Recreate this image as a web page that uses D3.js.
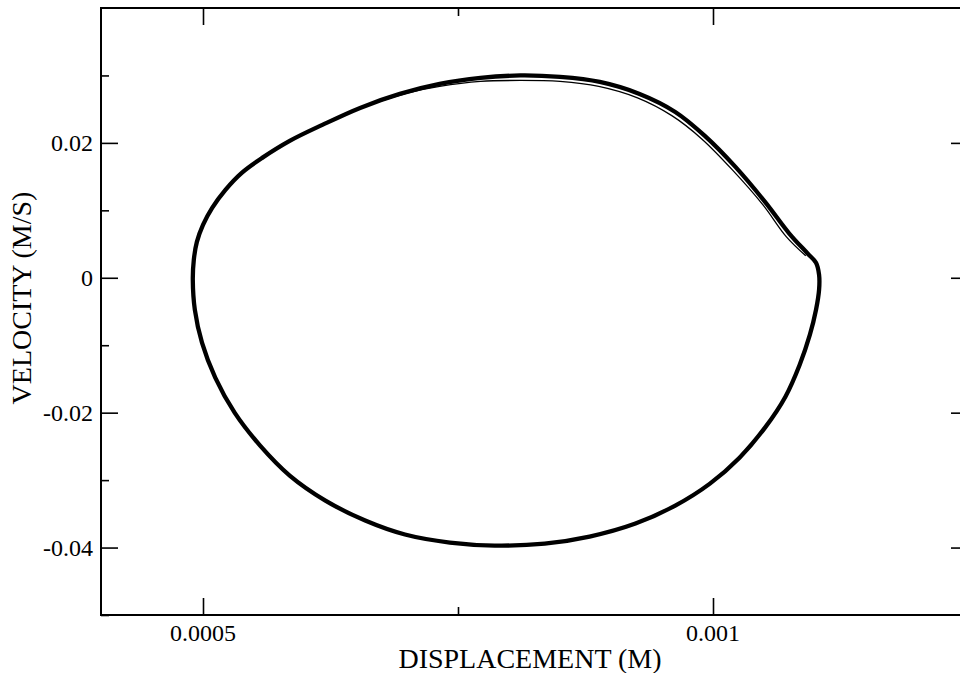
<!DOCTYPE html>
<html>
<head>
<meta charset="utf-8">
<script src="https://cdn.jsdelivr.net/npm/d3@7"></script>
<style>
  html, body { margin: 0; padding: 0; background: #fff; }
  svg { display: block; }
  text { font-family: "Liberation Serif", "DejaVu Serif", serif; fill: #000; }
</style>
</head>
<body>
<svg id="chart" width="960" height="673" font-family="Liberation Serif, DejaVu Serif, serif"></svg>
<script>
// ---- data ----
const xTickValues = [0.0005, 0.001];
const xTickLabels = ["0.0005", "0.001"];
const xMinorTicks = [0.00075, 0.00125];
const yTickValues = [-0.04, -0.02, 0, 0.02];
const yTickLabels = ["-0.04", "-0.02", "0", "0.02"];
const yMinorTicks = [-0.05, -0.03, -0.01, 0.01, 0.03];
const xLabel = "DISPLACEMENT (M)";
const yLabel = "VELOCITY (M/S)";

// main limit cycle (displacement, velocity)
const cycleX = [0.000490, 0.000491, 0.000494, 0.000500, 0.000509, 0.000522, 0.000538, 0.000558, 0.000585, 0.000617,
  0.000654, 0.000693, 0.000732, 0.000772, 0.000811, 0.000850, 0.000889, 0.000928, 0.000963, 0.000992,
  0.001022, 0.001051, 0.001075, 0.001093, 0.001101, 0.001104, 0.001104, 0.001101, 0.001095, 0.001085,
  0.001071, 0.001051, 0.001026, 0.000997, 0.000963, 0.000924, 0.000879, 0.000835, 0.000786, 0.000742,
  0.000698, 0.000659, 0.000620, 0.000585, 0.000556, 0.000531, 0.000512, 0.000499, 0.000492];
const cycleV = [-0.0003, 0.00267, 0.00533, 0.00785, 0.01037, 0.01304, 0.01556, 0.01778, 0.02030, 0.02267,
  0.02519, 0.02726, 0.02874, 0.02963, 0.03000, 0.02978, 0.02904, 0.02726, 0.02459, 0.02104,
  0.01644, 0.01126, 0.00652, 0.00356, 0.00222, 0.00044, -0.00178, -0.00474, -0.00844, -0.01289,
  -0.01763, -0.02222, -0.02667, -0.03052, -0.03378, -0.03644, -0.03837, -0.03941, -0.03970, -0.03926,
  -0.03807, -0.03600, -0.03304, -0.02933, -0.02489, -0.02000, -0.01481, -0.00963, -0.00474];

// inner trace visible on the upper-right arc
const innerX = [0.000664, 0.000703, 0.000732, 0.000772, 0.000811, 0.000850, 0.000888, 0.000926, 0.000960, 0.000989, 0.001019, 0.001049, 0.001072, 0.001091];
const innerV = [0.02570, 0.02748, 0.02837, 0.02911, 0.02926, 0.02911, 0.02837, 0.02667, 0.02400, 0.02059, 0.01600, 0.01081, 0.00607, 0.00326];

// ---- layout ----
const svg = d3.select("#chart");
const L = 101, R = 968, T = 8, B = 615;
const x = d3.scaleLinear().domain([0.0004, 0.00125]).range([L, R]);
const y = d3.scaleLinear().domain([-0.05, 0.04]).range([B, T]);
const fsTick = 24, fsTitle = 28;
const majorLen = 17, minorLen = 8;

// curve
const cyclePts = cycleX.map((d, i) => [d, cycleV[i]]);
const innerPts = innerX.map((d, i) => [d, innerV[i]]);
const lineClosed = d3.line().x(d => x(d[0])).y(d => y(d[1])).curve(d3.curveCatmullRomClosed.alpha(0.5));
const lineOpen = d3.line().x(d => x(d[0])).y(d => y(d[1])).curve(d3.curveCatmullRom.alpha(0.5));

svg.append("path").attr("d", lineClosed(cyclePts))
  .attr("fill", "none").attr("stroke", "#000").attr("stroke-width", 4.3);
svg.append("path").attr("d", lineOpen(innerPts))
  .attr("fill", "none").attr("stroke", "#000").attr("stroke-width", 1.3);

// frame
svg.append("rect").attr("x", L).attr("y", T).attr("width", R - L).attr("height", B - T)
  .attr("fill", "none").attr("stroke", "#000").attr("stroke-width", 2);

// ticks via d3 axis generators (pointing inward)
function addTicks(gen, transform, vals, len) {
  const g = svg.append("g").attr("transform", transform)
    .call(gen.tickValues(vals).tickSizeInner(len).tickSizeOuter(0).tickFormat(""));
  g.select(".domain").remove();
  g.selectAll(".tick line").attr("stroke", "#000").attr("stroke-width", 1.6);
  return g;
}
addTicks(d3.axisTop(x), `translate(0,${B})`, xTickValues, majorLen);
addTicks(d3.axisTop(x), `translate(0,${B})`, xMinorTicks, minorLen);
addTicks(d3.axisBottom(x), `translate(0,${T})`, xTickValues, majorLen);
addTicks(d3.axisBottom(x), `translate(0,${T})`, xMinorTicks, minorLen);
addTicks(d3.axisRight(y), `translate(${L},0)`, yTickValues, majorLen);
addTicks(d3.axisRight(y), `translate(${L},0)`, yMinorTicks, minorLen);
addTicks(d3.axisLeft(y), `translate(${R},0)`, yTickValues, majorLen);
addTicks(d3.axisLeft(y), `translate(${R},0)`, yMinorTicks, minorLen);

// tick labels
svg.append("g").selectAll("text").data(xTickValues).join("text")
  .attr("x", d => x(d)).attr("y", 641)
  .attr("text-anchor", "middle").style("font-size", fsTick + "px")
  .text((d, i) => xTickLabels[i]);
svg.append("g").selectAll("text").data(yTickValues).join("text")
  .attr("x", 93).attr("y", d => y(d)).attr("dy", "0.34em")
  .attr("text-anchor", "end").style("font-size", fsTick + "px")
  .text((d, i) => yTickLabels[i]);

// axis titles
svg.append("text").attr("x", 530).attr("y", 668)
  .attr("text-anchor", "middle").style("font-size", fsTitle + "px").text(xLabel);
svg.append("text").attr("transform", `translate(31,298) rotate(-90)`)
  .attr("text-anchor", "middle").style("font-size", fsTitle + "px").text(yLabel);
</script>
</body>
</html>
